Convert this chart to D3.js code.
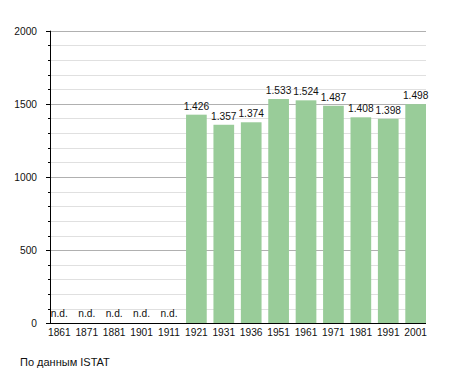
<!DOCTYPE html>
<html>
<head>
<meta charset="utf-8">
<script src="https://cdn.jsdelivr.net/npm/d3@7"></script>
<style>
body { margin: 0; background: #fff; }
text { font-family: "Liberation Sans", Arial, sans-serif; font-size: 10.2px; fill: #111; }
text.src { font-size: 11px; }
</style>
</head>
<body>
<div id="chart"></div>
<script>
var years = ["1861", "1871", "1881", "1901", "1911", "1921", "1931", "1936", "1951", "1961", "1971", "1981", "1991", "2001"];
var population = [null, null, null, null, null, 1426, 1357, 1374, 1533, 1524, 1487, 1408, 1398, 1498];
var yTicks = [0, 500, 1000, 1500, 2000];

var svg = d3.select("#chart").append("svg")
    .attr("width", 455)
    .attr("height", 373);

var x = d3.scaleBand()
    .domain(years)
    .range([49, 426])
    .paddingInner(0.245)
    .paddingOuter(0);

var y = d3.scaleLinear()
    .domain([0, 2000])
    .range([323.3, 30.7]);

// minor grid every 100, major every 500
var minor = d3.range(100, 2001, 100).filter(function(d) { return d % 500 != 0; });
svg.selectAll(".minor").data(minor).enter().append("line")
    .attr("x1", 50).attr("x2", 426)
    .attr("y1", function(d) { return Math.round(y(d)) + 0.5; })
    .attr("y2", function(d) { return Math.round(y(d)) + 0.5; })
    .attr("stroke", "#e0e0e0");
svg.selectAll(".major").data(yTicks.slice(1)).enter().append("line")
    .attr("x1", 50).attr("x2", 426)
    .attr("y1", function(d) { return Math.round(y(d)) + 0.5; })
    .attr("y2", function(d) { return Math.round(y(d)) + 0.5; })
    .attr("stroke", "#b0b0b0");

// bars
svg.selectAll(".bar").data(years).enter().append("rect")
    .filter(function(d, i) { return population[i] != null; })
    .attr("x", function(d) { return x(d); })
    .attr("width", x.bandwidth())
    .attr("y", function(d) { return y(population[years.indexOf(d)]); })
    .attr("height", function(d) { return y(0) - y(population[years.indexOf(d)]); })
    .attr("fill", "#99cc99");

// value labels
svg.selectAll(".val").data(years).enter().append("text")
    .attr("x", function(d) { return x(d) + x.bandwidth() / 2; })
    .attr("y", function(d, i) { return population[i] == null ? y(0) - 6 : y(population[i]) - 5; })
    .attr("text-anchor", "middle")
    .text(function(d, i) { return population[i] == null ? "n.d." : String(population[i] / 1000).padEnd(5, "0"); });

// y axis
svg.selectAll(".mtick").data(minor).enter().append("line")
    .attr("x1", 48).attr("x2", 50)
    .attr("y1", function(d) { return Math.round(y(d)) + 0.5; })
    .attr("y2", function(d) { return Math.round(y(d)) + 0.5; })
    .attr("stroke", "#000");
svg.selectAll(".ytick").data(yTicks).enter().append("line")
    .attr("x1", 46).attr("x2", 50)
    .attr("y1", function(d) { return Math.round(y(d)) + 0.5; })
    .attr("y2", function(d) { return Math.round(y(d)) + 0.5; })
    .attr("stroke", "#000");
svg.selectAll(".ylab").data(yTicks).enter().append("text")
    .attr("x", 37)
    .attr("y", function(d) { return y(d) + 4; })
    .attr("text-anchor", "end")
    .text(function(d) { return d; });
svg.append("line")
    .attr("x1", 50.5).attr("x2", 50.5)
    .attr("y1", y(2000)).attr("y2", y(0))
    .attr("stroke", "#000");

// x axis
svg.append("line")
    .attr("x1", 46).attr("x2", 426)
    .attr("y1", Math.round(y(0)) + 0.5).attr("y2", Math.round(y(0)) + 0.5)
    .attr("stroke", "#000");
svg.selectAll(".xlab").data(years).enter().append("text")
    .attr("x", function(d) { return x(d) + x.bandwidth() / 2; })
    .attr("y", 336)
    .attr("text-anchor", "middle")
    .text(function(d) { return d; });

svg.append("text")
    .attr("class", "src")
    .attr("x", 20)
    .attr("y", 366)
    .text("По данным  ISTAT");
</script>
</body>
</html>
